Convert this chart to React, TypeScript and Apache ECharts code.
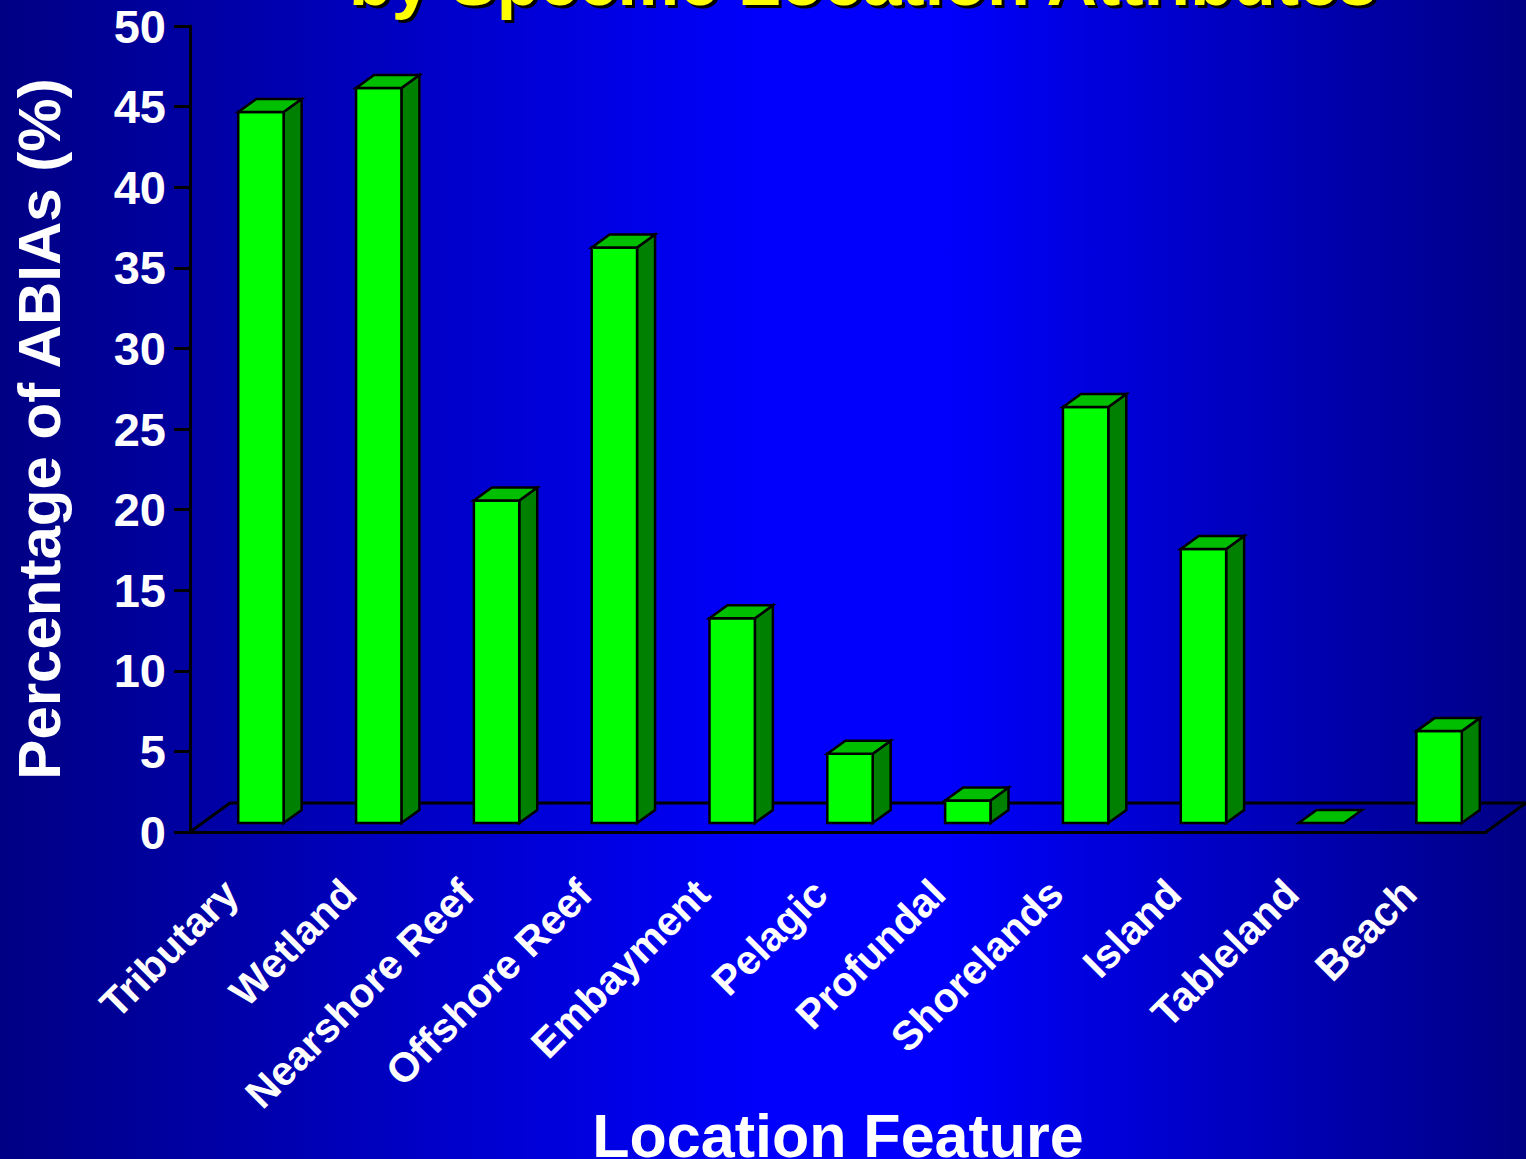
import React, { useEffect, useRef } from "react";
import * as echarts from "echarts";

const categories = [
  "Tributary",
  "Wetland",
  "Nearshore Reef",
  "Offshore Reef",
  "Embayment",
  "Pelagic",
  "Profundal",
  "Shorelands",
  "Island",
  "Tableland",
  "Beach",
];
const values = [44.1, 45.6, 20.0, 35.7, 12.7, 4.3, 1.4, 25.8, 17.0, 0, 5.7];
const yTicks = { min: 0, max: 50, interval: 5 };

const FONT = "'Liberation Sans', Arial, Helvetica, sans-serif";

// 3D look parameters (styling only)
const FLOOR_DX = 40;
const FLOOR_DY = -29;
const BAR_SHIFT_X = 12;
const BAR_SHIFT_Y = -9;
const BAR_W_RATIO = 0.385;
const BAR_DX = 18;
const BAR_DY = -13;

export default function App() {
  const ref = useRef<HTMLDivElement>(null);

  useEffect(() => {
    if (!ref.current) return;
    const chart = echarts.init(ref.current, null, { renderer: "svg" });

    const renderFloor = (params: any, api: any) => {
      const cs = params.coordSys;
      const x0 = cs.x;
      const x1 = cs.x + cs.width;
      const yb = cs.y + cs.height;
      return {
        type: "polyline",
        shape: {
          points: [
            [x0, yb],
            [x0 + FLOOR_DX, yb + FLOOR_DY],
            [x1 + FLOOR_DX, yb + FLOOR_DY],
            [x1, yb],
          ],
        },
        style: { stroke: "#000", lineWidth: 3, fill: null },
        silent: true,
      };
    };

    const renderBar = (params: any, api: any) => {
      const i = api.value(0);
      const v = api.value(1);
      const base = api.coord([i, 0]);
      const top = api.coord([i, v]);
      const band = api.size([1, 0])[0];
      const w = band * BAR_W_RATIO;
      const cx = base[0] + BAR_SHIFT_X;
      const xl = cx - w / 2;
      const xr = cx + w / 2;
      const yb = base[1] + BAR_SHIFT_Y;
      const yt = top[1] + BAR_SHIFT_Y;
      const stroke = { stroke: "#000", lineWidth: 2.5, lineJoin: "miter" };
      const children: any[] = [];
      if (yb - yt > 0.5) {
        children.push({
          type: "polygon",
          shape: {
            points: [
              [xr, yb],
              [xr + BAR_DX, yb + BAR_DY],
              [xr + BAR_DX, yt + BAR_DY],
              [xr, yt],
            ],
          },
          style: { fill: "#008000", ...stroke },
        });
        children.push({
          type: "rect",
          shape: { x: xl, y: yt, width: w, height: yb - yt },
          style: { fill: "#00FF00", ...stroke },
        });
      }
      children.push({
        type: "polygon",
        shape: {
          points: [
            [xl, yt],
            [xl + BAR_DX, yt + BAR_DY],
            [xr + BAR_DX, yt + BAR_DY],
            [xr, yt],
          ],
        },
        style: { fill: "#00BE00", ...stroke },
      });
      return { type: "group", children };
    };

    const option: any = {
      animation: false,
      backgroundColor: new echarts.graphic.LinearGradient(0, 0, 1, 0, [
        { offset: 0, color: "#000084" },
        { offset: 0.5, color: "#0000FC" },
        { offset: 0.62, color: "#0000FC" },
        { offset: 1, color: "#000084" },
      ]),
      graphic: [
        {
          type: "text",
          x: 866,
          y: -16,
          style: {
            text: "by Specific Location Attributes",
            fill: "#000",
            font: `bold 70px ${FONT}`,
            align: "center",
            verticalAlign: "middle",
          },
          z: 10,
        },
        {
          type: "text",
          x: 863,
          y: -19,
          style: {
            text: "by Specific Location Attributes",
            fill: "#FFFF00",
            font: `bold 70px ${FONT}`,
            align: "center",
            verticalAlign: "middle",
          },
          z: 11,
        },
      ],
      grid: {
        left: 190,
        width: 1296,
        top: 26,
        height: 806,
        containLabel: false,
        outerBoundsMode: "none",
      },
      xAxis: {
        type: "category",
        data: categories,
        name: "Location Feature",
        nameLocation: "middle",
        nameGap: 273,
        nameMoveOverlap: false,
        nameTextStyle: {
          color: "#fff",
          fontSize: 61,
          fontWeight: "bold",
          fontFamily: FONT,
        },
        axisLine: { lineStyle: { color: "#000", width: 3 } },
        axisTick: { length: 18, lineStyle: { color: "#000", width: 3 } },
        axisLabel: {
          rotate: 45,
          interval: 0,
          margin: 37,
          color: "#fff",
          fontSize: 41,
          fontWeight: "bold",
          fontFamily: FONT,
          padding: [0, 25, 0, 0],
        },
        splitLine: { show: false },
      },
      yAxis: {
        type: "value",
        min: yTicks.min,
        max: yTicks.max,
        interval: yTicks.interval,
        name: "Percentage of ABIAs (%)",
        nameLocation: "middle",
        nameGap: 121,
        nameMoveOverlap: false,
        nameRotate: 90,
        nameTextStyle: {
          color: "#fff",
          fontSize: 60,
          fontWeight: "bold",
          fontFamily: FONT,
        },
        axisLine: { show: true, lineStyle: { color: "#000", width: 3 } },
        axisTick: { show: true, length: 16, lineStyle: { color: "#000", width: 3 } },
        axisLabel: {
          margin: 24,
          color: "#fff",
          fontSize: 47,
          fontWeight: "bold",
          fontFamily: FONT,
        },
        splitLine: { show: false },
      },
      series: [
        {
          type: "custom",
          name: "floor",
          renderItem: renderFloor,
          data: [[0, 0]],
          encode: { x: 0, y: 1 },
          z: 1,
          silent: true,
        },
        {
          type: "custom",
          name: "ABIAs",
          renderItem: renderBar,
          data: values.map((v, i) => [i, v]),
          encode: { x: 0, y: 1 },
          z: 3,
          clip: false,
        },
      ],
    };

    chart.setOption(option);
    return () => chart.dispose();
  }, []);

  return (
    <div
      ref={ref}
      style={{ position: "fixed", left: 0, top: 0, width: 1526, height: 1159 }}
    />
  );
}
